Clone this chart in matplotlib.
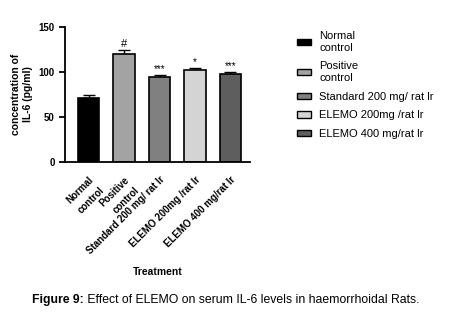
import matplotlib
matplotlib.use("Agg")
import matplotlib.pyplot as plt
from matplotlib.patches import Patch

plt.rcParams['font.family'] = ['Liberation Sans', 'DejaVu Sans']

categories = ["Normal\ncontrol", "Positive\ncontrol", "Standard 200 mg/ rat lr",
              "ELEMO 200mg /rat lr", "ELEMO 400 mg/rat lr"]
legend_labels = ["Normal\ncontrol", "Positive\ncontrol", "Standard 200 mg/ rat lr",
                 "ELEMO 200mg /rat lr", "ELEMO 400 mg/rat lr"]
values = [71, 120.5, 94.5, 102, 98]
errors = [3.5, 3.5, 2, 2, 1.5]
signif = ["", "#", "***", "*", "***"]
colors = ["#000000", "#a3a3a3", "#808080", "#d4d4d4", "#5e5e5e"]

fig = plt.figure(figsize=(4.51, 3.26), dpi=100)
ax = fig.add_axes([0.144, 0.503, 0.41, 0.414])
x = list(range(len(values)))
ax.bar(x, values, width=0.6, color=colors, edgecolor="black", linewidth=1.2, zorder=2)
ax.errorbar(x, values, yerr=[[0]*len(values), errors], fmt="none", ecolor="black",
            elinewidth=1, capsize=4, capthick=1, zorder=1)
for xi, v, e, s in zip(x, values, errors, signif):
    if s:
        ax.text(xi, v + e + 1.5, s, ha="center", va="bottom", fontsize=7 if s != "#" else 8)

ax.set_ylim(0, 150)
ax.set_xlim(-0.67, 4.55)
ax.set_yticks([0, 50, 100, 150])
ax.spines['top'].set_visible(False)
ax.spines['right'].set_visible(False)
ax.spines['left'].set_linewidth(1.3)
ax.spines['bottom'].set_linewidth(1.3)
ax.tick_params(axis='y', width=1.3, length=4, labelsize=7)
ax.tick_params(axis='x', width=1.3, length=0, labelsize=7, pad=9)
for lab in ax.get_yticklabels():
    lab.set_fontweight('bold')
ax.set_xticks(x)
ax.set_xticklabels(categories, rotation=45, ha="right", rotation_mode="anchor",
                   fontweight="bold", fontsize=7, linespacing=1.6)
ax.set_ylabel("concentration of\nIL-6 (pg/ml)", fontweight="bold", fontsize=7.5, labelpad=4)
ax.set_xlabel("Treatment", fontweight="bold", fontsize=7.5, labelpad=8)

handles = [Patch(facecolor=c, edgecolor="black", linewidth=1) for c in colors]
leg = fig.legend(handles, legend_labels, loc="upper left", bbox_to_anchor=(0.636, 0.935),
                 frameon=False, fontsize=8, handlelength=1.3, handleheight=0.5,
                 labelspacing=0.78, handletextpad=0.7)

t1 = fig.text(0.071, 0.08, "Figure 9:", fontweight="bold", fontsize=8.8, ha="left", va="center")
fig.canvas.draw()
bb = t1.get_window_extent(renderer=fig.canvas.get_renderer())
x2 = bb.x1 / fig.bbox.width
fig.text(x2, 0.08, " Effect of ELEMO on serum IL-6 levels in haemorrhoidal Rats.",
         fontsize=8.8, ha="left", va="center")

fig.savefig("out.png", dpi=100)
